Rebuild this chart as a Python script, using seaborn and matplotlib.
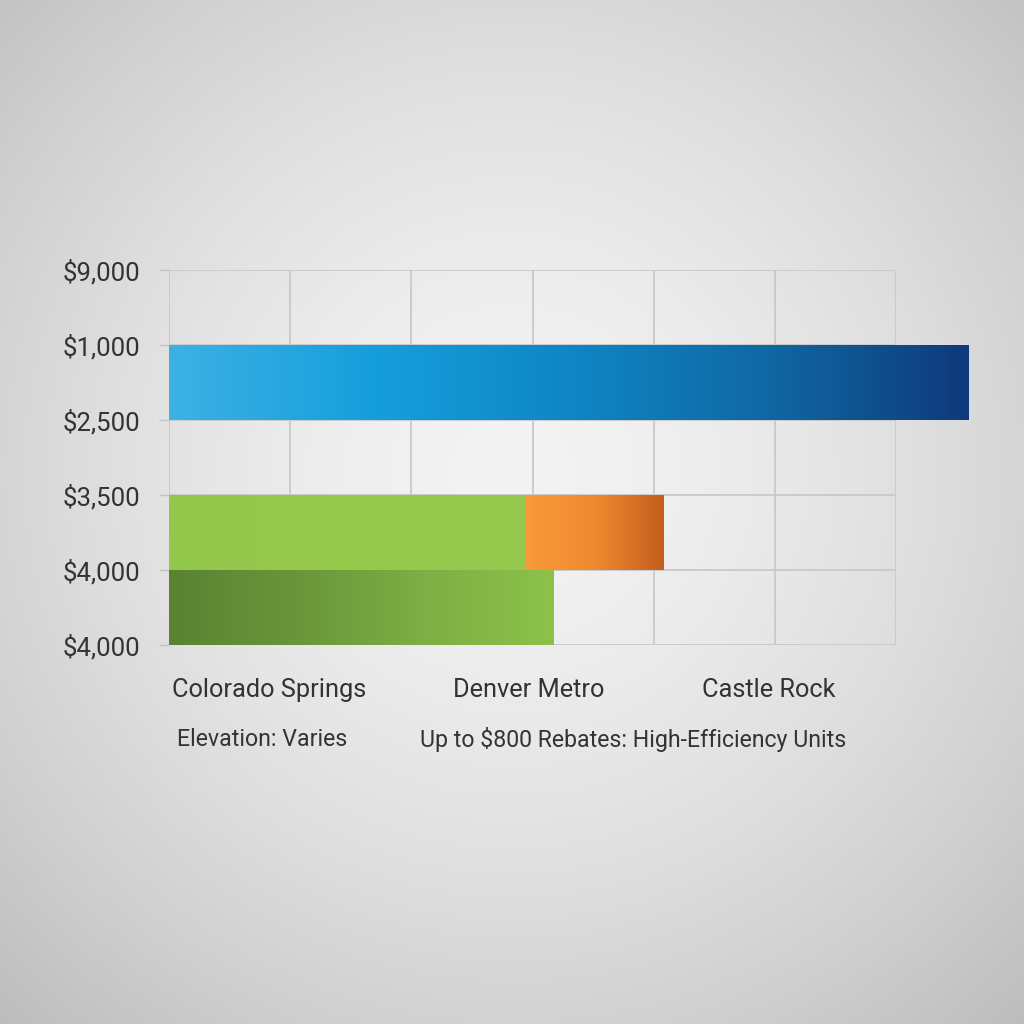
import numpy as np
import matplotlib
matplotlib.use("Agg")
import matplotlib.pyplot as plt
import seaborn as sns
from matplotlib.colors import LinearSegmentedColormap

# ---------------- data ----------------
tick_labels = ["$9,000", "$1,000", "$2,500", "$3,500", "$4,000", "$4,000"]
bands = ["b0", "b1", "b2", "b3", "b4"]
categories = ["Colorado Springs", "Denver Metro", "Castle Rock"]
category_x = [0.83, 2.97, 4.95]
notes = ["Elevation: Varies", "Up to $800 Rebates: High-Efficiency Units"]
notes_x = [0.77, 3.83]

bar_names = ["blue", "green", "orange", "darkgreen"]
bar_band = ["b1", "b3", "b3", "b4"]
bar_start = [0.0, 0.0, 2.94, 0.0]
bar_end = [6.6, 2.94, 4.08, 3.17]

gradients = {
    "blue": ["#3db1e4", "#169fdc", "#0f86c5", "#1068a3", "#0e3a7c"],
    "green": ["#93c74b", "#97c94d", "#95c84c"],
    "orange": ["#f8993a", "#f08a30", "#c35e1e"],
    "darkgreen": ["#5a8232", "#6a963a", "#7eae44", "#8cc24b"],
}

# ---------------- figure ----------------
sns.set_theme(style="white")
plt.rcParams["font.family"] = ["Roboto", "DejaVu Sans"]

fig = plt.figure(figsize=(10.24, 10.24), dpi=100)

# radial background
bg = fig.add_axes([0, 0, 1, 1], zorder=-10)
H = W = 512
yy, xx = np.mgrid[0:H, 0:W]
cx, cy = W * 0.5, H * 0.46
d = np.sqrt((xx - cx) ** 2 + (yy - cy) ** 2) / np.sqrt(cx ** 2 + cy ** 2)
v = (243 - 48 * d ** 1.6) / 255.0
bg.imshow(np.dstack([v, v, v]), extent=[0, 1, 0, 1], aspect="auto", interpolation="bilinear")
bg.set_axis_off()

L, R = 169 / 1024, 896 / 1024
T, B = 270 / 1024, 645 / 1024
ax = fig.add_axes([L, 1 - B, R - L, B - T])
ax.patch.set_alpha(0)

for name, band, s, e in zip(bar_names, bar_band, bar_start, bar_end):
    n0 = len(ax.patches)
    sns.barplot(x=[e - s], y=[band], order=bands, orient="h", width=1.0,
                color=gradients[name][1], saturation=1, ax=ax)
    p = ax.patches[n0]
    p.set_x(s)
    p.set_clip_on(False)
    p.set_linewidth(0)
    x0, y0, w, h = p.get_x(), p.get_y(), p.get_width(), p.get_height()
    cmap = LinearSegmentedColormap.from_list(name, gradients[name])
    grad = np.linspace(0, 1, 256)[None, :].repeat(8, axis=0)
    img = cmap(grad)
    ax.imshow(img, extent=[x0, x0 + w, y0 + h, y0], aspect="auto",
              zorder=3, clip_on=False, interpolation="bilinear")
    p.set_visible(False)

ax.set_xlim(0, 6)
ax.set_ylim(4.5, -0.5)
ax.set_aspect("auto")

ax.set_xticks(range(7))
ax.set_xticklabels([])
ax.set_yticks(np.arange(-0.5, 5, 1.0))
ax.set_yticklabels(tick_labels, fontsize=18.5, color="#333333")
ax.tick_params(axis="x", length=0)
ax.tick_params(axis="y", length=7, width=1, color="#c4c4c4", pad=14, left=True)
ax.grid(True, color="#c9c9c9", lw=1.3)
ax.set_axisbelow(True)
for sp in ax.spines.values():
    sp.set_visible(False)
ax.set_xlabel("")
ax.set_ylabel("")

trans = matplotlib.transforms.blended_transform_factory(ax.transData, ax.transAxes)
for cx_, lab in zip(category_x, categories):
    ax.text(cx_, -0.12, lab, transform=trans, ha="center", va="center",
            fontsize=18.3, color="#333333")
for nx_, lab in zip(notes_x, notes):
    ax.text(nx_, -0.253, lab, transform=trans, ha="center", va="center",
            fontsize=16.7, color="#333333")

fig.savefig("out.png", dpi=100)
